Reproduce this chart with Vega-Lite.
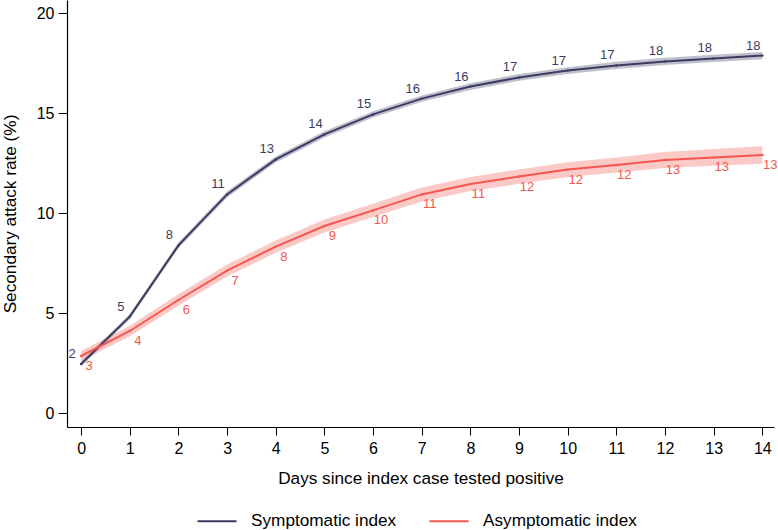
{
  "$schema": "https://vega.github.io/schema/vega-lite/v6.json",
  "width": 707,
  "height": 427,
  "autosize": {"type": "none"},
  "padding": {"left": 67, "top": 0, "right": 4, "bottom": 103},
  "config": {
    "view": {"stroke": null},
    "font": "Liberation Sans",
    "axis": {"grid": false, "domainColor": "#000", "tickColor": "#000", "labelColor": "#000", "titleColor": "#000", "titleFontWeight": "normal", "labelFont": "Liberation Sans", "titleFont": "Liberation Sans"}
  },
  "data": {
    "values": [
      {"day": 0, "group": "Symptomatic index", "rate": 2.45, "lo": 2.33, "hi": 2.57},
      {"day": 1, "group": "Symptomatic index", "rate": 4.82, "lo": 4.69, "hi": 4.95},
      {"day": 2, "group": "Symptomatic index", "rate": 8.38, "lo": 8.24, "hi": 8.52},
      {"day": 3, "group": "Symptomatic index", "rate": 10.93, "lo": 10.78, "hi": 11.08},
      {"day": 4, "group": "Symptomatic index", "rate": 12.68, "lo": 12.53, "hi": 12.83},
      {"day": 5, "group": "Symptomatic index", "rate": 13.93, "lo": 13.77, "hi": 14.09},
      {"day": 6, "group": "Symptomatic index", "rate": 14.93, "lo": 14.77, "hi": 15.09},
      {"day": 7, "group": "Symptomatic index", "rate": 15.72, "lo": 15.56, "hi": 15.88},
      {"day": 8, "group": "Symptomatic index", "rate": 16.32, "lo": 16.15, "hi": 16.49},
      {"day": 9, "group": "Symptomatic index", "rate": 16.78, "lo": 16.61, "hi": 16.95},
      {"day": 10, "group": "Symptomatic index", "rate": 17.12, "lo": 16.95, "hi": 17.29},
      {"day": 11, "group": "Symptomatic index", "rate": 17.38, "lo": 17.2, "hi": 17.56},
      {"day": 12, "group": "Symptomatic index", "rate": 17.58, "lo": 17.4, "hi": 17.76},
      {"day": 13, "group": "Symptomatic index", "rate": 17.73, "lo": 17.55, "hi": 17.91},
      {"day": 14, "group": "Symptomatic index", "rate": 17.87, "lo": 17.69, "hi": 18.05},
      {"day": 0, "group": "Asymptomatic index", "rate": 2.85, "lo": 2.6, "hi": 3.1},
      {"day": 1, "group": "Asymptomatic index", "rate": 4.1, "lo": 3.84, "hi": 4.36},
      {"day": 2, "group": "Asymptomatic index", "rate": 5.65, "lo": 5.36, "hi": 5.94},
      {"day": 3, "group": "Asymptomatic index", "rate": 7.12, "lo": 6.82, "hi": 7.42},
      {"day": 4, "group": "Asymptomatic index", "rate": 8.32, "lo": 8.01, "hi": 8.63},
      {"day": 5, "group": "Asymptomatic index", "rate": 9.35, "lo": 9.02, "hi": 9.68},
      {"day": 6, "group": "Asymptomatic index", "rate": 10.13, "lo": 9.8, "hi": 10.46},
      {"day": 7, "group": "Asymptomatic index", "rate": 10.93, "lo": 10.58, "hi": 11.28},
      {"day": 8, "group": "Asymptomatic index", "rate": 11.45, "lo": 11.1, "hi": 11.8},
      {"day": 9, "group": "Asymptomatic index", "rate": 11.82, "lo": 11.46, "hi": 12.18},
      {"day": 10, "group": "Asymptomatic index", "rate": 12.17, "lo": 11.8, "hi": 12.54},
      {"day": 11, "group": "Asymptomatic index", "rate": 12.4, "lo": 12.02, "hi": 12.78},
      {"day": 12, "group": "Asymptomatic index", "rate": 12.65, "lo": 12.25, "hi": 13.05},
      {"day": 13, "group": "Asymptomatic index", "rate": 12.78, "lo": 12.36, "hi": 13.2},
      {"day": 14, "group": "Asymptomatic index", "rate": 12.9, "lo": 12.46, "hi": 13.34}
    ]
  },
  "encoding": {
    "x": {
      "field": "day", "type": "quantitative",
      "scale": {"domain": [-0.29, 14.24], "nice": false, "zero": false},
      "axis": {"values": [0,1,2,3,4,5,6,7,8,9,10,11,12,13,14], "title": "Days since index case tested positive", "tickSize": 8, "labelPadding": 5, "labelFontSize": 16, "titleFontSize": 17.2, "titlePadding": 13, "domainWidth": 1.2, "labelFlush": false}
    },
    "y": {
      "field": "rate", "type": "quantitative",
      "scale": {"domain": [-0.7, 20.65], "nice": false, "zero": false},
      "axis": {"values": [0, 5, 10, 15, 20], "title": "Secondary attack rate (%)", "tickSize": 9, "labelPadding": 4, "labelFontSize": 16, "titleFontSize": 17.2, "titlePadding": 17, "domainWidth": 1.2, "labelFlush": false}
    },
    "color": {
      "field": "group", "type": "nominal",
      "scale": {"domain": ["Symptomatic index", "Asymptomatic index"], "range": ["#3b3b63", "#f4574f"]},
      "legend": {"title": null, "orient": "none", "direction": "horizontal", "legendX": 129.5, "legendY": 500.5, "padding": 0, "symbolType": "stroke", "symbolSize": 1521, "symbolStrokeWidth": 2, "labelFontSize": 17.2, "labelColor": "#000", "labelOffset": 13.5, "columnPadding": 29, "labelFont": "Liberation Sans"}
    }
  },
  "layer": [
    {
      "mark": {"type": "area", "fillOpacity": 0.32},
      "encoding": {"y": {"field": "lo", "type": "quantitative"}, "y2": {"field": "hi"}}
    },
    {
      "mark": {"type": "line", "strokeWidth": 2}
    },
    {
      "mark": {"type": "point", "filled": true, "size": 6, "opacity": 1}
    },
    {
      "transform": [{"filter": "datum.group === 'Symptomatic index'"}],
      "mark": {"type": "text", "dx": -9, "dy": -10, "fontSize": 13},
      "encoding": {"text": {"field": "rate", "type": "quantitative", "format": ".0f"}}
    },
    {
      "transform": [{"filter": "datum.group === 'Asymptomatic index'"}],
      "mark": {"type": "text", "dx": 8, "dy": 10, "fontSize": 13},
      "encoding": {"text": {"field": "rate", "type": "quantitative", "format": ".0f"}}
    }
  ]
}
